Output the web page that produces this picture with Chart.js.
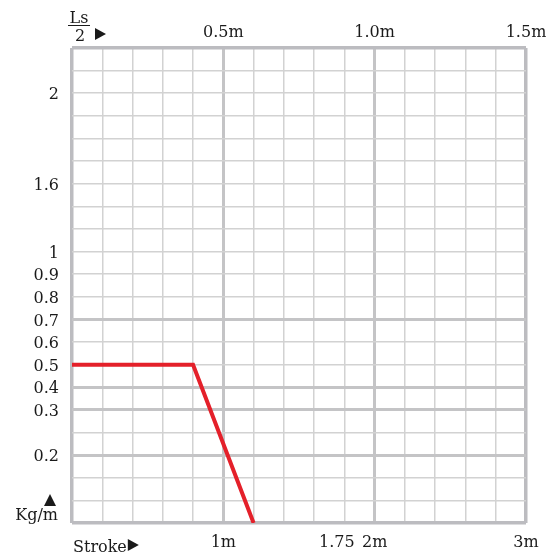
<!DOCTYPE html>
<html>
<head>
<meta charset="utf-8">
<script src="https://cdn.jsdelivr.net/npm/chart.js@4"></script>
<style>
  body { margin: 0; background: #fff; }
  #wrap { width: 558px; height: 556px; position: relative; }
</style>
</head>
<body>
<div id="wrap"><canvas id="myChart"></canvas></div>
<script>
// red curve: half stroke Ls/2 (m) against load (kg/m)
const strokeHalf = [0, 0.4, 0.6];
const loadKgM = [0.5, 0.5, 0.05];

// top axis (Ls/2) and bottom axis (stroke)
const topTickValues = [0.5, 1.0, 1.5];
const topTickLabels = ['0.5m', '1.0m', '1.5m'];
const bottomTickValues = [0.5, 0.875, 1.0, 1.5];
const bottomTickLabels = ['1m', '1.75', '2m', '3m'];

// the load axis is not linear: each value sits on a grid row (0 = bottom)
const yScaleValues = [0.05, 0.2, 0.3, 0.4, 0.5, 0.6, 0.7, 0.8, 0.9, 1, 1.6, 2, 2.2];
const yScaleRows   = [0,    3,   5,   6,   7,   8,   9,   10,  11,  12, 15,  19, 21];
const yThickValues = [0.7, 0.4, 0.3, 0.2];

const FONT = 'DejaVu Serif';
const TEXT = '#1a1a1a';
const thinGrid = '#d2d2d2';
const thickGrid = '#c4c4c6';
const frameGrid = '#bcbcc0';

function toRow(v) {
  for (let i = 0; i < yScaleValues.length - 1; i++) {
    const a = yScaleValues[i], b = yScaleValues[i + 1];
    if (v >= a && v <= b) {
      return yScaleRows[i] + (v - a) / (b - a) * (yScaleRows[i + 1] - yScaleRows[i]);
    }
  }
  return v < yScaleValues[0] ? yScaleRows[0] : yScaleRows[yScaleRows.length - 1];
}

function near(a, b) { return Math.abs(a - b) < 1e-6; }

const thickRows = yThickValues.map(toRow);
const lastRow = yScaleRows[yScaleRows.length - 1];

function triangle(ctx, pts) {
  ctx.beginPath();
  ctx.moveTo(pts[0], pts[1]);
  ctx.lineTo(pts[2], pts[3]);
  ctx.lineTo(pts[4], pts[5]);
  ctx.closePath();
  ctx.fill();
}

// extra texts: Ls/2 fraction, Stroke, Kg/m
const axisTexts = {
  id: 'axisTexts',
  afterDraw(chart) {
    const ctx = chart.ctx;
    const area = chart.chartArea;
    ctx.save();
    ctx.fillStyle = TEXT;
    ctx.strokeStyle = TEXT;
    ctx.font = '16px ' + FONT;
    ctx.textBaseline = 'alphabetic';

    ctx.textAlign = 'center';
    ctx.fillText('Ls', area.left + 7, 23);
    ctx.lineWidth = 1;
    ctx.beginPath();
    ctx.moveTo(area.left - 4, 25.5);
    ctx.lineTo(area.left + 18, 25.5);
    ctx.stroke();
    ctx.fillText('2', area.left + 8, 41);
    triangle(ctx, [95, 28, 95, 40, 106, 34]);

    ctx.textAlign = 'left';
    ctx.fillText('Stroke', area.left + 1, 552);
    const w = ctx.measureText('Stroke').width;
    const sx = area.left + 2 + w;
    triangle(ctx, [sx, 539, sx, 551, sx + 11, 545]);

    triangle(ctx, [44, 506, 56, 506, 50, 494]);
    ctx.textAlign = 'right';
    ctx.fillText('Kg/m', 58, 520);
    ctx.restore();
  }
};

const ctx = document.getElementById('myChart');

new Chart(ctx, {
  type: 'line',
  data: {
    datasets: [{
      data: strokeHalf.map((x, i) => ({ x: x, y: toRow(loadKgM[i]) })),
      borderColor: '#e4202a',
      borderWidth: 4,
      pointRadius: 0,
      tension: 0,
      fill: false,
      xAxisID: 'x',
      yAxisID: 'y'
    }]
  },
  options: {
    responsive: true,
    maintainAspectRatio: false,
    animation: false,
    events: [],
    layout: { padding: { left: 0, right: 32, top: 0, bottom: 0 } },
    plugins: { legend: { display: false }, tooltip: { enabled: false } },
    scales: {
      x: {
        type: 'linear',
        position: 'top',
        min: 0,
        max: 1.5,
        afterBuildTicks: scale => {
          const ticks = [];
          for (let i = 0; i <= 15; i++) ticks.push({ value: i / 10 });
          scale.ticks = ticks;
        },
        afterFit: scale => { scale.height = 48; },
        border: { display: false },
        grid: {
          drawTicks: false,
          color: c => {
            const v = c.tick.value;
            if (near(v, 0) || near(v, 1.5)) return frameGrid;
            return near(v, 0.5) || near(v, 1.0) ? thickGrid : thinGrid;
          },
          lineWidth: c => {
            const v = c.tick.value;
            if (near(v, 0) || near(v, 1.5)) return 3.5;
            return near(v, 0.5) || near(v, 1.0) ? 3 : 1.5;
          }
        },
        ticks: {
          autoSkip: false,
          maxRotation: 0,
          padding: 6,
          color: TEXT,
          font: { family: FONT, size: 16 },
          callback: value => {
            const i = topTickValues.findIndex(t => near(t, value));
            return i >= 0 ? topTickLabels[i] : '';
          }
        }
      },
      xb: {
        type: 'linear',
        position: 'bottom',
        min: 0,
        max: 1.5,
        afterBuildTicks: scale => {
          scale.ticks = bottomTickValues.map(v => ({ value: v }));
        },
        afterFit: scale => { scale.height = 33; },
        border: { display: false },
        grid: { display: false, drawTicks: false },
        ticks: {
          autoSkip: false,
          maxRotation: 0,
          padding: 10,
          color: TEXT,
          font: { family: FONT, size: 16 },
          callback: value => {
            const i = bottomTickValues.findIndex(t => near(t, value));
            return i >= 0 ? bottomTickLabels[i] : '';
          }
        }
      },
      y: {
        type: 'linear',
        position: 'left',
        min: 0,
        max: lastRow,
        afterBuildTicks: scale => {
          const ticks = [];
          for (let r = 0; r <= lastRow; r++) ticks.push({ value: r });
          scale.ticks = ticks;
        },
        afterFit: scale => { scale.width = 72; },
        border: { display: false },
        grid: {
          drawTicks: false,
          color: c => {
            const v = c.tick.value;
            if (v === 0 || v === lastRow) return frameGrid;
            return thickRows.some(r => near(r, v)) ? thickGrid : thinGrid;
          },
          lineWidth: c => {
            const v = c.tick.value;
            if (v === 0 || v === lastRow) return 3.5;
            return thickRows.some(r => near(r, v)) ? 3 : 1.5;
          }
        },
        ticks: {
          autoSkip: false,
          padding: 13,
          labelOffset: 2,
          color: TEXT,
          font: { family: FONT, size: 16 },
          callback: value => {
            const i = yScaleRows.indexOf(value);
            return i > 0 && i < yScaleRows.length - 1 ? String(yScaleValues[i]) : '';
          }
        }
      }
    }
  },
  plugins: [axisTexts]
});
</script>
</body>
</html>
